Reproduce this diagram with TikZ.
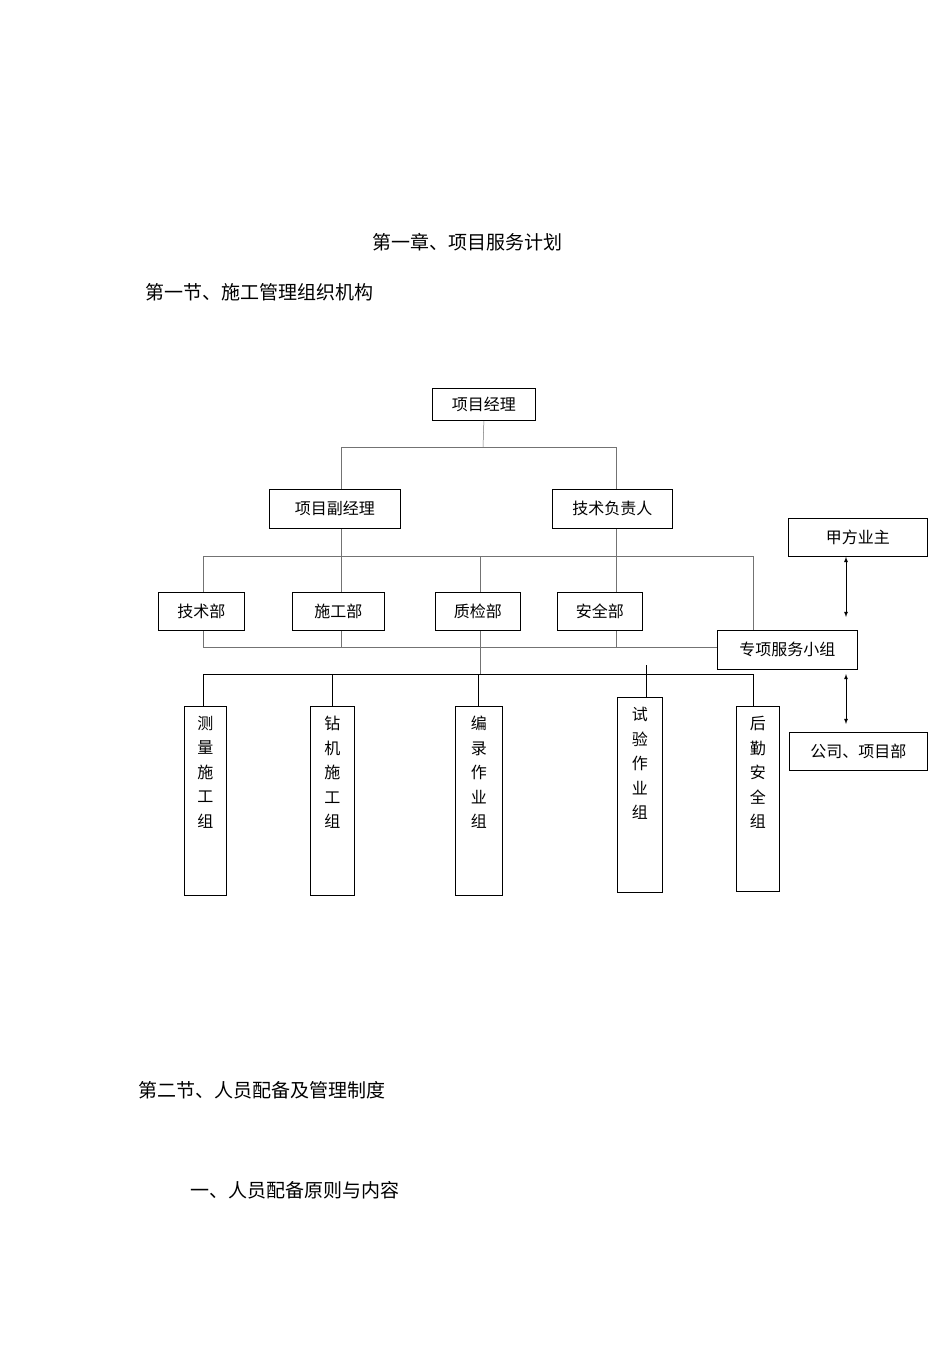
\documentclass[tikz,border=0pt]{standalone}
\usepackage{fontspec}
\newfontfamily\cjk{Noto Sans CJK SC}
\begin{document}
\begin{tikzpicture}[x=1pt,y=-1pt,
  bx/.style={draw,line width=0.8pt,inner sep=0pt,anchor=north west,font=\cjk\fontsize{16}{18}\selectfont},
  ln/.style={draw=black!55,line width=0.5pt},
  hd/.style={font=\cjk\fontsize{19}{22}\selectfont,inner sep=0pt}]
\useasboundingbox (0,0) rectangle (950,1345);
\newcommand\bxn[6]{\node[bx,minimum width=#4-#2,minimum height=#5-#3] (#1) at (#2,#3) {#6};}
\bxn{pm}{432}{388}{535}{420}{项目经理}
\bxn{vpm}{269}{489}{400}{528}{项目副经理}
\bxn{tl}{552}{489}{672}{528}{技术负责人}
\bxn{jf}{788}{518}{927}{556}{甲方业主}
\bxn{js}{158}{592}{244}{630}{技术部}
\bxn{sg}{292}{592}{384}{630}{施工部}
\bxn{zj}{435}{592}{520}{630}{质检部}
\bxn{aq}{557}{592}{642}{630}{安全部}
\bxn{zx}{717}{630}{857}{669}{专项服务小组}
\bxn{gs}{789}{732}{927}{770}{公司、项目部}
\newcommand\vb[6]{\node[bx,minimum width=#4-#2,minimum height=#5-#3] (#1) at (#2,#3) {};
  \node[font=\cjk\fontsize{16}{24.5}\selectfont,align=center,anchor=north,inner sep=0pt] at ([yshift=-10pt]#1.north) {#6};}
\vb{cl}{184}{706}{226}{895}{测\\量\\施\\工\\组}
\vb{zjz}{310}{706}{354}{895}{钻\\机\\施\\工\\组}
\vb{bl}{455}{706}{502}{895}{编\\录\\作\\业\\组}
\vb{sy}{617}{697}{662}{892}{试\\验\\作\\业\\组}
\vb{hq}{736}{706}{779}{891}{后\\勤\\安\\全\\组}
% lines
\coordinate (a) at (483,447);
\draw[ln] (pm.south) -- (a);
\draw[ln] (vpm.north -| 341,0) -- (341,447) -- (616,447) -- (tl.north -| 616,0);
\draw[ln] (vpm.south -| 341,0) -- (sg.north -| 341,0);
\draw[ln] (tl.south -| 616,0) -- (aq.north -| 616,0);
\draw[ln] (js.north -| 203,0) -- (203,556) -- (753,556) -- (zx.north -| 753,0);
\draw[ln] (480,556) -- (zj.north -| 480,0);
\draw[ln] (js.south -| 203,0) -- (203,647) -- (zx.west |- 0,647);
\draw[ln] (sg.south -| 341,0) -- (341,647);
\draw[ln] (aq.south -| 616,0) -- (616,647);
\draw[ln] (zj.south -| 480,0) -- (480,674);
\draw[line width=0.8pt] (cl.north -| 203,0) -- (203,674) -- (753,674) -- (hq.north -| 753,0);
\draw[line width=0.8pt] (332,674) -- (zjz.north -| 332,0);
\draw[line width=0.8pt] (478,674) -- (bl.north -| 478,0);
\draw[line width=0.8pt] (646,665) -- (sy.north -| 646,0);
\draw[line width=0.8pt,<->,>=latex] (jf.south -| 846,0) -- (846,617);
\draw[line width=0.8pt,<->,>=latex] (846,674) -- (846,724);
% headings
\node[hd] (t1) at (467,242) {第一章、项目服务计划};
\node[hd,anchor=west] (t2) at (145,292) {第一节、施工管理组织机构};
\node[hd,anchor=west] (t3) at (138,1090) {第二节、人员配备及管理制度};
\node[hd,anchor=west] (t4) at (190,1190) {一、人员配备原则与内容};
\end{tikzpicture}
\end{document}
